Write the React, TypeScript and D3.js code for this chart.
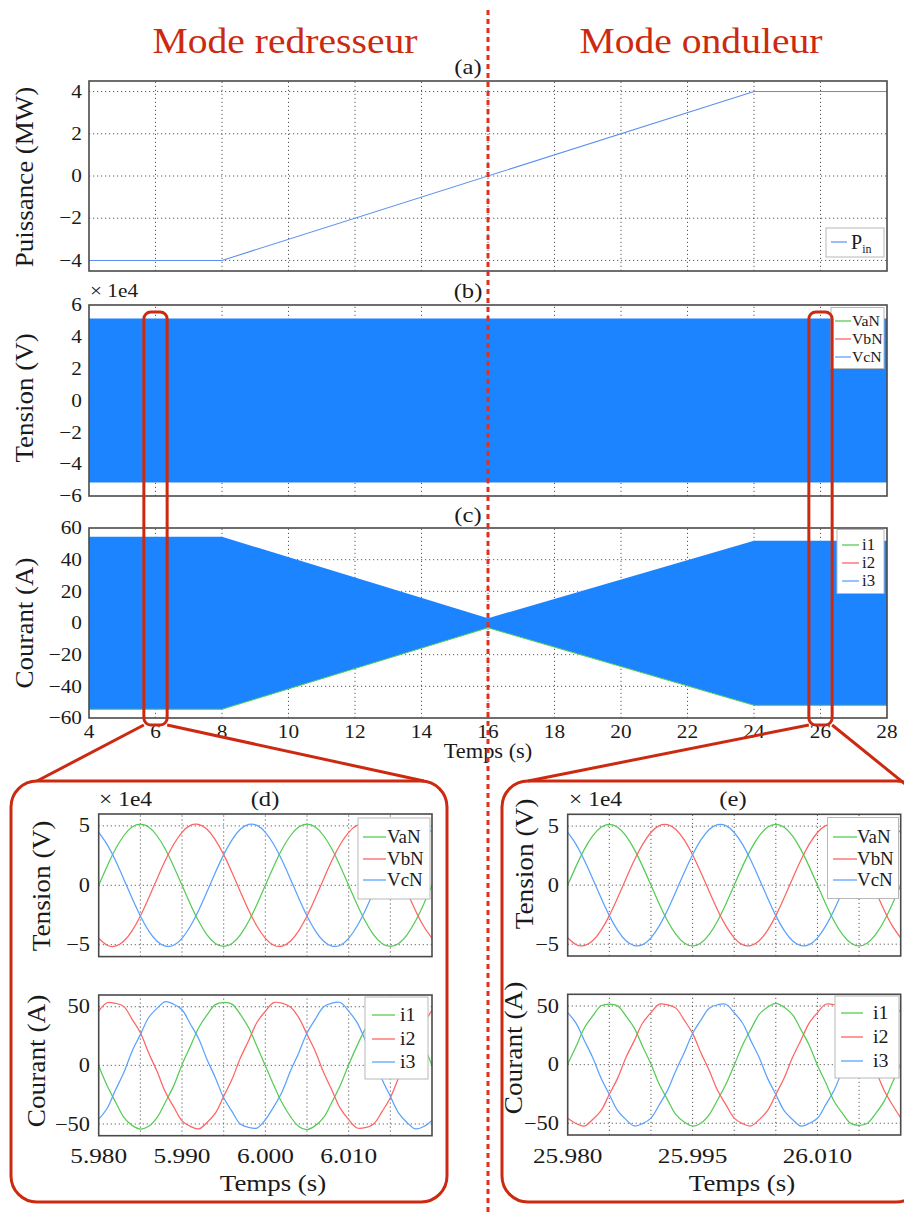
import React from "react";
import * as d3 from "d3";

// ---------------- data ----------------
const mainTimeTicks = [4, 6, 8, 10, 12, 14, 16, 18, 20, 22, 24, 26, 28];
const powerTicks = [-4, -2, 0, 2, 4];
const voltageTicks = [-6, -4, -2, 0, 2, 4, 6];
const currentTicks = [-60, -40, -20, 0, 20, 40, 60];

const powerTimeS = [4, 8, 24, 28];
const powerMW = [-4, -4, 4, 4];

const voltageEnvTimeS = [4, 28];
const voltageEnvAmp = [5.15, 5.15]; // x 1e4 V

const currentEnvTimeS = [4, 8, 16, 24, 28];
const currentEnvAmp = [54.5, 54.5, 3, 52, 52]; // A

const zoomCentersS = [6, 26];
const zoomHalfWidthS = 0.35;
const modeSwitchS = 16;

const sampleStartD = 5.98;
const sampleStartE = 25.98;
const sampleStepS = 0.001;

const zoomGridD = [5.985, 5.99, 5.995, 6.0, 6.005, 6.01, 6.015];
const zoomLabelsD = [5.98, 5.99, 6.0, 6.01];
const zoomGridE = [25.985, 25.99, 25.995, 26.0, 26.005, 26.01, 26.015];
const zoomLabelsE = [25.98, 25.995, 26.01];
const zoomVoltTicks = [-5, 0, 5];
const zoomCurrTicks = [-50, 0, 50];

// phase voltages (x 1e4 V), shared by (d) and (e)
const vaN = [0, 1.59, 3.03, 4.17, 4.9, 5.15, 4.9, 4.17, 3.03, 1.59, 0, -1.59, -3.03, -4.17, -4.9, -5.15, -4.9, -4.17, -3.03, -1.59,
  0, 1.59, 3.03, 4.17, 4.9, 5.15, 4.9, 4.17, 3.03, 1.59, 0, -1.59, -3.03, -4.17, -4.9, -5.15, -4.9, -4.17, -3.03, -1.59, 0];
const vbN = [-4.46, -5.04, -5.12, -4.71, -3.83, -2.58, -1.07, 0.54, 2.1, 3.45, 4.46, 5.04, 5.12, 4.71, 3.83, 2.58, 1.07, -0.54, -2.1, -3.45,
  -4.46, -5.04, -5.12, -4.71, -3.83, -2.58, -1.07, 0.54, 2.1, 3.45, 4.46, 5.04, 5.12, 4.71, 3.83, 2.58, 1.07, -0.54, -2.1, -3.45, -4.46];
const vcN = [4.46, 3.45, 2.1, 0.54, -1.07, -2.58, -3.83, -4.71, -5.12, -5.04, -4.46, -3.45, -2.1, -0.54, 1.07, 2.58, 3.83, 4.71, 5.12, 5.04,
  4.46, 3.45, 2.1, 0.54, -1.07, -2.58, -3.83, -4.71, -5.12, -5.04, -4.46, -3.45, -2.1, -0.54, 1.07, 2.58, 3.83, 4.71, 5.12, 5.04, 4.46];

// currents, rectifier mode (d)
const i1Rect = [-0.4, -17.2, -31.0, -44.1, -51.2, -54.3, -52.0, -44.6, -31.4, -17.5, 0.6, 16.2, 32.1, 43.0, 51.8, 53.6, 52.2, 43.4, 32.0, 16.0,
  -0.3, -16.8, -31.9, -43.5, -52.1, -54.8, -51.4, -44.4, -31.2, -17.0, 0.5, 16.6, 31.3, 44.0, 51.3, 54.0, 51.6, 44.2, 30.9, 17.1, -0.2];
const i2Rect = [46.2, 53.4, 52.9, 50.3, 39.4, 27.8, 10.5, -5.1, -22.8, -35.4, -47.3, -52.1, -54.2, -48.7, -40.8, -26.3, -11.9, 6.3, 21.2, 36.8,
  46.1, 53.5, 53.0, 49.8, 40.9, 26.4, 11.8, -6.2, -21.4, -36.7, -46.3, -53.4, -53.1, -50.0, -39.5, -27.6, -10.6, 5.0, 22.7, 35.5, 47.2];
const i3Rect = [-45.9, -36.8, -21.3, -6.4, 11.9, 26.2, 40.8, 48.6, 54.3, 52.1, 47.4, 35.3, 22.6, 5.0, -10.5, -27.7, -39.3, -50.1, -53.0, -53.5,
  -46.4, -35.4, -22.7, -5.1, 10.6, 27.6, 39.4, 50.0, 53.1, 53.6, 46.3, 36.6, 21.4, 6.3, -11.8, -26.4, -40.7, -48.7, -54.2, -52.2, -47.0];

// currents, inverter mode (e)
const i1Inv = [0.5, 15.4, 31.3, 41.5, 50.2, 51.6, 50.1, 41.4, 31.2, 15.5, 0.6, -16.8, -30.0, -42.7, -49.0, -52.4, -49.9, -42.6, -30.1, -16.7,
  -0.4, 16.6, 30.1, 42.8, 48.9, 52.3, 49.0, 42.7, 30.0, 16.8, -0.5, -15.5, -31.2, -41.5, -50.1, -51.7, -50.0, -41.6, -31.3, -15.4, 0.4];
const i2Inv = [-45.7, -50.2, -52.4, -46.8, -39.3, -25.3, -11.5, 6.1, 20.5, 35.5, 44.3, 51.6, 51.0, 48.2, 37.9, 26.7, 10.1, -4.9, -21.9, -34.1,
  -45.6, -50.3, -52.3, -46.9, -39.2, -25.4, -11.4, 6.0, 20.6, 35.4, 44.4, 51.5, 51.1, 48.1, 38.0, 26.6, 10.2, -5.0, -21.8, -34.2, -45.5];
const i3Inv = [44.4, 35.4, 20.6, 6.1, -11.4, -25.4, -39.2, -46.9, -52.3, -50.3, -45.6, -34.2, -21.8, -4.9, 10.2, 26.6, 38.0, 48.1, 51.1, 51.5,
  44.3, 35.5, 20.5, 6.2, -11.5, -25.3, -39.3, -46.8, -52.4, -50.2, -45.7, -34.1, -21.9, -5.0, 10.1, 26.7, 37.9, 48.2, 51.0, 51.6, 44.5];

const voltLabels = ["VaN", "VbN", "VcN"];
const currLabels = ["i1", "i2", "i3"];

// ---------------- style ----------------
const FONT = "'Liberation Serif', 'Times New Roman', serif";
const SX = 1.12;
const TXT = "#1a1a1a";
const RED = "#cc2a10";
const GREEN = "#55cc55";
const PINK = "#ff6464";
const LBLUE = "#5aa2ff";
const BAND = "#1c84ff";
const phaseColors = [GREEN, PINK, LBLUE];

type TxtProps = { x: number; y: number; size: number; anchor?: string; rotate?: boolean; fill?: string; sx?: number; children: any };
function Txt({ x, y, size, anchor = "start", rotate = false, fill = TXT, sx = SX, children }: TxtProps) {
  const tr = `translate(${x},${y})${rotate ? " rotate(-90)" : ""} scale(${sx},1)`;
  return (
    <text transform={tr} fontFamily={FONT} fontSize={size} textAnchor={anchor as any} fill={fill}>
      {children}
    </text>
  );
}

const fmtTick = (v: number, dec = 0) => (v < 0 ? "\u2212" : "") + Math.abs(v).toFixed(dec);

function Grid({ xs, ys, xS, yS }: { xs: number[]; ys: number[]; xS: any; yS: any }) {
  const [x0, x1] = xS.range();
  const [y0, y1] = yS.range();
  const [dx0, dx1] = xS.domain();
  const [dy0, dy1] = yS.domain();
  return (
    <g stroke="#4a4a4a" strokeWidth={0.9} strokeDasharray="1.2 2.8">
      {xs.filter((v) => v > dx0 + 1e-9 && v < dx1 - 1e-9).map((v) => (
        <line key={"vx" + v} x1={xS(v)} x2={xS(v)} y1={y0} y2={y1} />
      ))}
      {ys.filter((v) => v > Math.min(dy0, dy1) + 1e-9 && v < Math.max(dy0, dy1) - 1e-9).map((v) => (
        <line key={"hy" + v} x1={x0} x2={x1} y1={yS(v)} y2={yS(v)} />
      ))}
    </g>
  );
}

function Frame({ xS, yS }: { xS: any; yS: any }) {
  const [x0, x1] = xS.range();
  const [yb, yt] = yS.range();
  return <rect x={x0} y={yt} width={x1 - x0} height={yb - yt} fill="none" stroke="#4a4a4a" strokeWidth={1.6} />;
}

function YTicks({ ticks, yS, right, size, dec = 0 }: { ticks: number[]; yS: any; right: number; size: number; dec?: number }) {
  return (
    <g>
      {ticks.map((v) => (
        <Txt key={v} x={right} y={yS(v) + size * 0.33} size={size} anchor="end">
          {fmtTick(v, dec)}
        </Txt>
      ))}
    </g>
  );
}

type LegendProps = {
  box: [number, number, number, number];
  labels: string[];
  rows: number[];
  lx0: number;
  lx1: number;
  tx: number;
  size: number;
};
function Legend({ box, labels, rows, lx0, lx1, tx, size }: LegendProps) {
  return (
    <g>
      <rect x={box[0]} y={box[1]} width={box[2]} height={box[3]} fill="#fff" stroke="#b8b8b8" strokeWidth={1} />
      {labels.map((lab, i) => (
        <g key={lab}>
          <line x1={lx0} x2={lx1} y1={rows[i]} y2={rows[i]} stroke={phaseColors[i]} strokeWidth={1.3} />
          <Txt x={tx} y={rows[i] + size * 0.33} size={size} sx={1.05}>
            {lab}
          </Txt>
        </g>
      ))}
    </g>
  );
}

function Traces({ series, start, xS, yS, curve, clipId }: { series: number[][]; start: number; xS: any; yS: any; curve: any; clipId: string }) {
  const gen = (vals: number[]) =>
    d3
      .line<number>()
      .x((_, k) => xS(start + k * sampleStepS))
      .y((v) => yS(v))
      .curve(curve)(vals) as string;
  return (
    <g clipPath={`url(#${clipId})`}>
      {series.map((s, i) => (
        <path key={i} d={gen(s)} fill="none" stroke={phaseColors[i]} strokeWidth={1.25} />
      ))}
    </g>
  );
}

function ClipRect({ id, xS, yS }: { id: string; xS: any; yS: any }) {
  const [x0, x1] = xS.range();
  const [yb, yt] = yS.range();
  return (
    <clipPath id={id}>
      <rect x={x0} y={yt} width={x1 - x0} height={yb - yt} />
    </clipPath>
  );
}

export default function App() {
  const W = 904;
  const H = 1216;

  // main panels
  const x = d3.scaleLinear().domain([4, 28]).range([89, 887]);
  const ya = d3.scaleLinear().domain([-4.5, 4.5]).range([271, 81]);
  const yb = d3.scaleLinear().domain([-6, 6]).range([496, 305]);
  const yc = d3.scaleLinear().domain([-60, 60]).range([718, 528]);

  const powerLine = d3
    .line<number>()
    .x((_, i) => x(powerTimeS[i]))
    .y((v) => ya(v))(powerMW) as string;

  const vBand = d3
    .area<number>()
    .x((_, i) => x(voltageEnvTimeS[i]))
    .y0((a) => yb(-a))
    .y1((a) => yb(a))(voltageEnvAmp) as string;

  const cBand = d3
    .area<number>()
    .x((_, i) => x(currentEnvTimeS[i]))
    .y0((a) => yc(-a))
    .y1((a) => yc(a))(currentEnvAmp) as string;
  const cLower = d3
    .line<number>()
    .x((_, i) => x(currentEnvTimeS[i]))
    .y((a) => yc(-a))(currentEnvAmp) as string;

  // zoom panels
  const xd = d3.scaleLinear().domain([5.98, 6.02]).range([98.7, 432]);
  const xe = d3.scaleLinear().domain([25.98, 26.02]).range([567.7, 900.7]);
  const yVd = d3.scaleLinear().domain([-6, 6]).range([956.6, 814]);
  const yId = d3.scaleLinear().domain([-60, 60]).range([1135.7, 995]);
  const yVe = d3.scaleLinear().domain([-6, 6]).range([956, 814.3]);
  const yIe = d3.scaleLinear().domain([-60, 60]).range([1135, 994.3]);

  const calloutTop = 312;
  const calloutBottom = 725;
  const boxTop = 781;
  const boxBottom = 1202;

  const rects = zoomCentersS.map((c) => ({ x0: x(c - zoomHalfWidthS), x1: x(c + zoomHalfWidthS) }));
  const rippleCurve = d3.curveCatmullRom.alpha(0.5);

  return (
    <svg
      width={W}
      height={H}
      viewBox={`0 0 ${W} ${H}`}
      style={{ position: "absolute", left: 0, top: 0, background: "#fff" }}
    >
      <defs>
        <ClipRect id="clipVd" xS={xd} yS={yVd} />
        <ClipRect id="clipId" xS={xd} yS={yId} />
        <ClipRect id="clipVe" xS={xe} yS={yVe} />
        <ClipRect id="clipIe" xS={xe} yS={yIe} />
      </defs>
      <rect x={0} y={0} width={W} height={H} fill="#fff" />

      {/* titles */}
      <Txt x={285} y={53} size={36} anchor="middle" fill={RED} sx={1.1}>
        Mode redresseur
      </Txt>
      <Txt x={701} y={53} size={36} anchor="middle" fill={RED} sx={1.1}>
        Mode onduleur
      </Txt>

      {/* ---------- panel (a) ---------- */}
      <Txt x={468} y={74} size={22} anchor="middle">(a)</Txt>
      <Grid xs={mainTimeTicks} ys={powerTicks} xS={x} yS={ya} />
      <path d={powerLine} fill="none" stroke="#5a8ff0" strokeWidth={1.1} />
      <Frame xS={x} yS={ya} />
      <YTicks ticks={powerTicks} yS={ya} right={82} size={19} />
      <Txt x={33} y={177} size={25} anchor="middle" rotate sx={1.08}>
        Puissance (MW)
      </Txt>
      <rect x={826} y={228} width={58} height={29} fill="#fff" stroke="#b8b8b8" strokeWidth={1} />
      <line x1={831} x2={847} y1={242} y2={242} stroke="#5a8ff0" strokeWidth={1.2} />
      <text x={851} y={249} fontFamily={FONT} fontSize={20} fill={TXT}>
        P
        <tspan dy={4} fontSize={12}>
          in
        </tspan>
      </text>

      {/* ---------- panel (b) ---------- */}
      <Txt x={468} y={298} size={22} anchor="middle">(b)</Txt>
      <Txt x={90} y={297} size={19}>× 1e4</Txt>
      <Grid xs={mainTimeTicks} ys={voltageTicks} xS={x} yS={yb} />
      <path d={vBand} fill={BAND} />
      <Frame xS={x} yS={yb} />
      <YTicks ticks={voltageTicks} yS={yb} right={82} size={19} />
      <Txt x={33} y={398} size={25} anchor="middle" rotate sx={1.08}>
        Tension (V)
      </Txt>
      <Legend box={[831, 307.5, 53, 61]} labels={voltLabels} rows={[321, 339, 357]} lx0={835} lx1={851} tx={852} size={15} />

      {/* ---------- panel (c) ---------- */}
      <Txt x={468} y={522} size={22} anchor="middle">(c)</Txt>
      <Grid xs={mainTimeTicks} ys={currentTicks} xS={x} yS={yc} />
      <path d={cBand} fill={BAND} />
      <path d={cLower} fill="none" stroke={GREEN} strokeWidth={1} />
      <Frame xS={x} yS={yc} />
      <YTicks ticks={currentTicks} yS={yc} right={82} size={19} />
      <Txt x={33} y={623} size={25} anchor="middle" rotate sx={1.08}>
        Courant (A)
      </Txt>
      <Legend box={[837, 529.5, 47, 64]} labels={currLabels} rows={[545, 563, 581]} lx0={842} lx1={859} tx={862} size={16} />
      {mainTimeTicks.map((t) => (
        <Txt key={t} x={x(t)} y={738} size={19} anchor="middle">
          {String(t)}
        </Txt>
      ))}
      <Txt x={x(modeSwitchS)} y={758} size={20} anchor="middle">
        Temps (s)
      </Txt>

      {/* ---------- zoom (d) ---------- */}
      <Txt x={99} y={806} size={21}>× 1e4</Txt>
      <Txt x={265} y={806} size={22} anchor="middle">(d)</Txt>
      <Grid xs={zoomGridD} ys={zoomVoltTicks} xS={xd} yS={yVd} />
      <Traces series={[vaN, vbN, vcN]} start={sampleStartD} xS={xd} yS={yVd} curve={d3.curveNatural} clipId="clipVd" />
      <Frame xS={xd} yS={yVd} />
      <YTicks ticks={zoomVoltTicks} yS={yVd} right={90} size={20} />
      <Txt x={50} y={886} size={26} anchor="middle" rotate sx={1.05}>
        Tension (V)
      </Txt>
      <Legend box={[358, 818, 72, 81]} labels={voltLabels} rows={[837, 859, 880]} lx0={363} lx1={386} tx={387} size={18} />

      <Grid xs={zoomGridD} ys={zoomCurrTicks} xS={xd} yS={yId} />
      <Traces series={[i1Rect, i2Rect, i3Rect]} start={sampleStartD} xS={xd} yS={yId} curve={rippleCurve} clipId="clipId" />
      <Frame xS={xd} yS={yId} />
      <YTicks ticks={zoomCurrTicks} yS={yId} right={90} size={20} />
      <Txt x={45} y={1061} size={26} anchor="middle" rotate sx={1.05}>
        Courant (A)
      </Txt>
      <Legend box={[365, 997, 63, 82]} labels={currLabels} rows={[1015, 1039, 1062]} lx0={372} lx1={395} tx={400} size={19} />
      {zoomLabelsD.map((t) => (
        <Txt key={t} x={xd(t)} y={1163} size={22} anchor="middle" sx={1.15}>
          {t.toFixed(3)}
        </Txt>
      ))}
      <Txt x={273} y={1191} size={24} anchor="middle">
        Temps (s)
      </Txt>

      {/* ---------- zoom (e) ---------- */}
      <Txt x={569} y={806} size={21}>× 1e4</Txt>
      <Txt x={733} y={806} size={22} anchor="middle">(e)</Txt>
      <Grid xs={zoomGridE} ys={zoomVoltTicks} xS={xe} yS={yVe} />
      <Traces series={[vaN, vbN, vcN]} start={sampleStartE} xS={xe} yS={yVe} curve={d3.curveNatural} clipId="clipVe" />
      <Frame xS={xe} yS={yVe} />
      <YTicks ticks={zoomVoltTicks} yS={yVe} right={559} size={20} />
      <Txt x={533} y={864} size={26} anchor="middle" rotate sx={1.05}>
        Tension (V)
      </Txt>
      <Legend box={[827.5, 817.5, 71, 81]} labels={voltLabels} rows={[837, 859, 880]} lx0={833} lx1={857} tx={857} size={18} />

      <Grid xs={zoomGridE} ys={zoomCurrTicks} xS={xe} yS={yIe} />
      <Traces series={[i1Inv, i2Inv, i3Inv]} start={sampleStartE} xS={xe} yS={yIe} curve={rippleCurve} clipId="clipIe" />
      <Frame xS={xe} yS={yIe} />
      <YTicks ticks={zoomCurrTicks} yS={yIe} right={559} size={20} />
      <Txt x={522} y={1048} size={26} anchor="middle" rotate sx={1.05}>
        Courant (A)
      </Txt>
      <Legend box={[835, 996, 64, 82]} labels={currLabels} rows={[1013, 1037, 1061]} lx0={841} lx1={863} tx={873} size={19} />
      {zoomLabelsE.map((t) => (
        <Txt key={t} x={xe(t)} y={1163} size={22} anchor="middle" sx={1.15}>
          {t.toFixed(3)}
        </Txt>
      ))}
      <Txt x={742} y={1191} size={24} anchor="middle">
        Temps (s)
      </Txt>

      {/* ---------- callouts ---------- */}
      <g fill="none" stroke={RED} strokeWidth={3}>
        {rects.map((r, i) => (
          <rect key={i} x={r.x0} y={calloutTop} width={r.x1 - r.x0} height={calloutBottom - calloutTop} rx={7} />
        ))}
        <rect x={11} y={boxTop} width={436} height={boxBottom - boxTop} rx={26} />
        <rect x={502} y={boxTop} width={420} height={boxBottom - boxTop} rx={26} />
        <line x1={rects[0].x0} y1={calloutBottom} x2={37} y2={boxTop} />
        <line x1={rects[0].x1} y1={calloutBottom} x2={424} y2={boxTop} />
        <line x1={rects[1].x0} y1={calloutBottom} x2={528} y2={boxTop} />
        <line x1={rects[1].x1} y1={calloutBottom} x2={910} y2={788} />
      </g>

      {/* mode switch dashed line */}
      <line x1={x(modeSwitchS)} x2={x(modeSwitchS)} y1={10} y2={H} stroke="#e0301e" strokeWidth={3} strokeDasharray="5 4" />
    </svg>
  );
}
